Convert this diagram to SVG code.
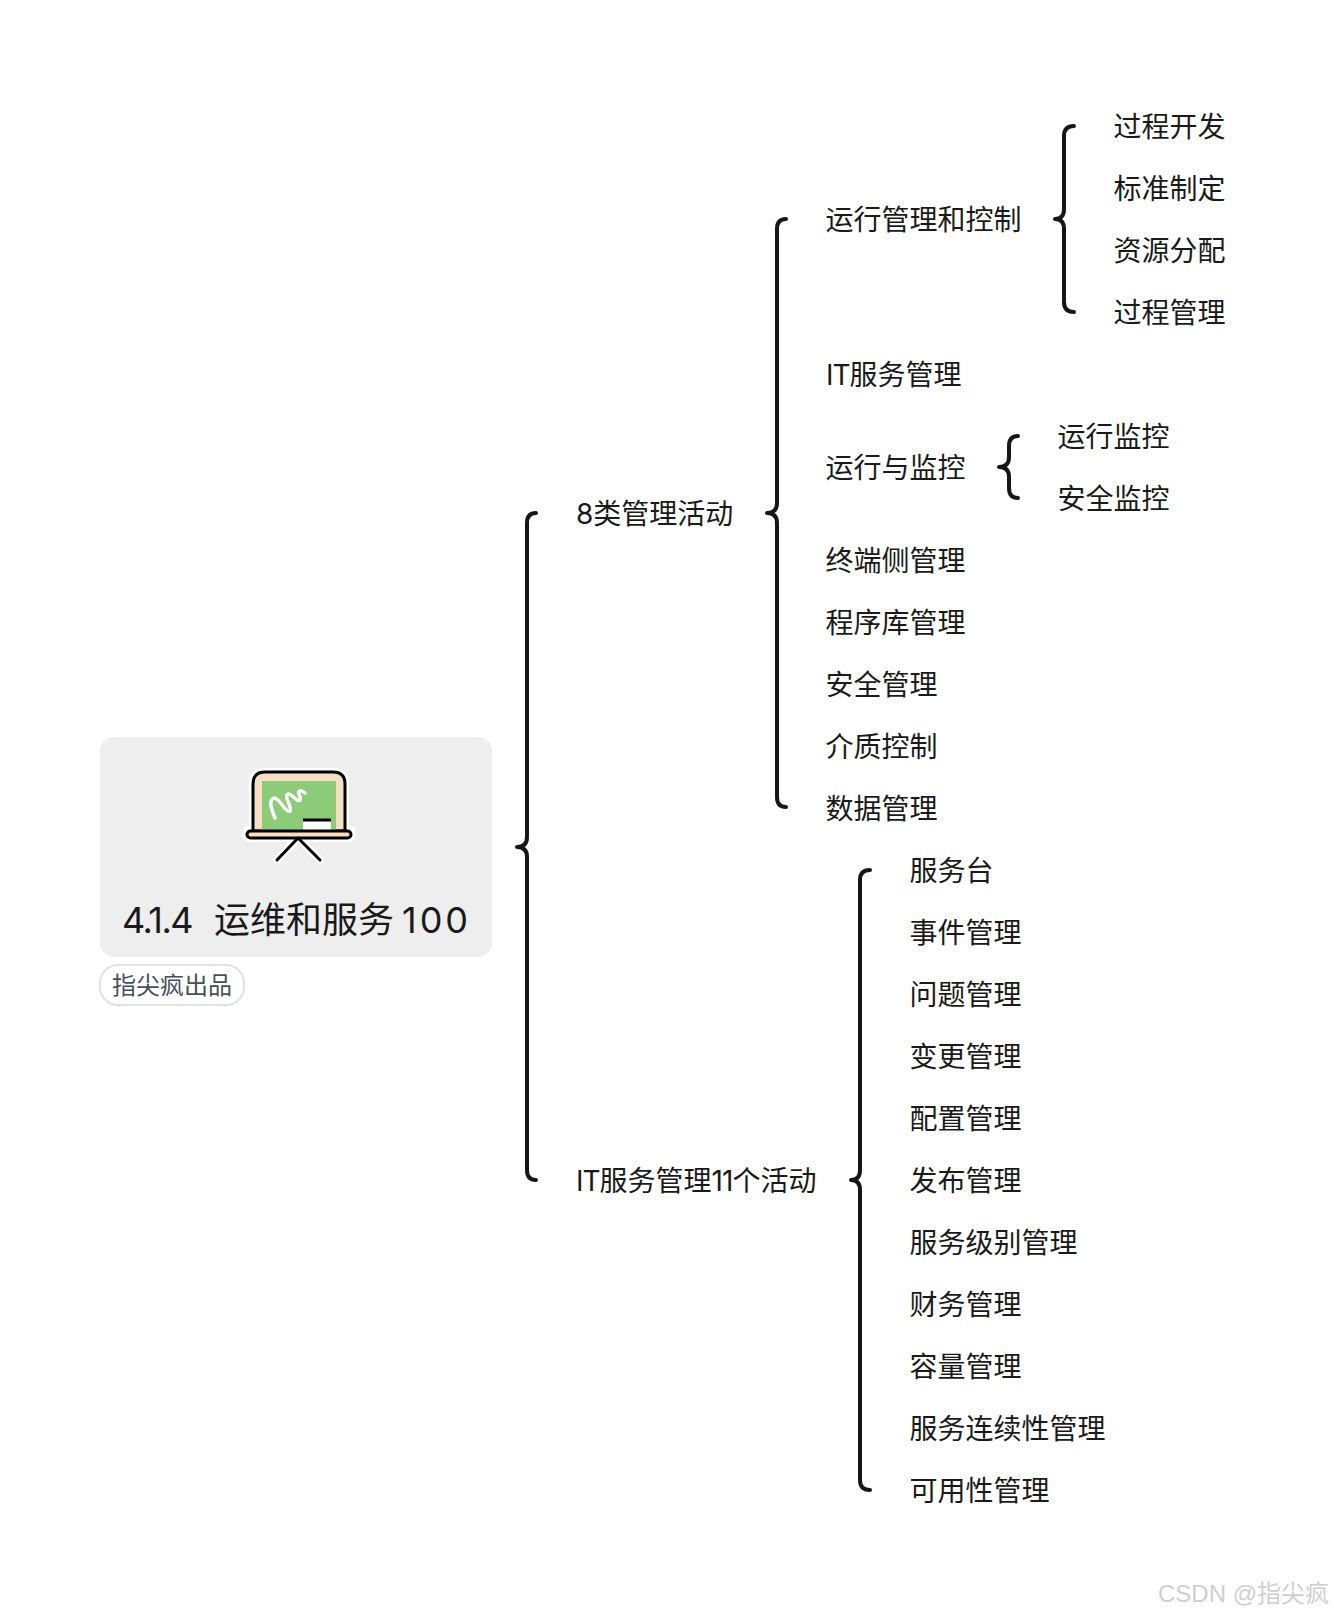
<svg xmlns="http://www.w3.org/2000/svg" width="1334" height="1616" viewBox="0 0 1334 1616">
<style>
text{font-family:Inter,"Noto Sans CJK SC",sans-serif;fill:#1a1a1a}
.n{font-size:28px;dominant-baseline:central}
.l{letter-spacing:-1px}
.b{fill:none;stroke:#161616;stroke-width:4;stroke-linecap:round;stroke-linejoin:round}
.k{stroke:#000;stroke-width:3;stroke-linecap:round;stroke-linejoin:round}
</style>
<rect width="1334" height="1616" fill="#fff"/>
<g id="connectors">
<path class="b" d="M536 513Q527 513 527 523V837Q527 847 517 847Q527 847 527 857V1170Q527 1180 536 1180"/>
<path class="b" d="M786 219Q777 219 777 229V503Q777 513 767 513Q777 513 777 523V797Q777 807 786 807"/>
<path class="b" d="M1074 126Q1064 126 1064 136V209Q1064 219 1055 219Q1064 219 1064 229V302Q1064 312 1074 312"/>
<path class="b" d="M1018 436Q1009 436 1009 446V457Q1009 467 999 467Q1009 467 1009 477V488Q1009 498 1018 498"/>
<path class="b" d="M870 870Q860 870 860 880V1170Q860 1180 851 1180Q860 1180 860 1190V1480Q860 1490 870 1490"/>
</g>
<g id="root">
<rect x="100" y="737" width="392" height="220" rx="14" fill="#eee"/>
<g id="icon">
<path d="M253 830V784Q253 772 265 772H333Q345 772 345 784V830H351Q352 838 347 838H251Q245 838 247 830Z" fill="#fff" stroke="#fff" stroke-width="8" stroke-linejoin="round"/>
<path d="M298 838L277 860M298 838L320 860" fill="none" stroke="#fff" stroke-width="8" stroke-linecap="round"/>
<path d="M253 831V784Q253 772 265 772H333Q345 772 345 784V831Z" fill="#f5dfc5" class="k"/>
<rect x="262" y="781" width="74" height="50" fill="#8ccb78"/>
<path d="M275 818C270 806 269 800 274 798C279 797 286 814 290 811C293 808 283 796 288 794C292 793 297 803 300 800C302 797 296 792 300 791C302 790 304 793 305 793" fill="none" stroke="#fff" stroke-width="3.5" stroke-linecap="round" stroke-linejoin="round"/>
<rect x="303" y="820" width="28" height="11" fill="#fff"/>
<path d="M303 820H331" stroke="#000" stroke-width="3"/>
<rect x="247" y="831" width="104" height="7" rx="3.5" fill="#f5dfc5" class="k"/>
<path d="M298 838L277 860M298 838L320 860" fill="none" class="k"/>
</g>
<text y="933" font-size="36"><tspan x="122" letter-spacing="-1.5">4.1.4</tspan><tspan x="214">运维和服务</tspan><tspan x="402" letter-spacing="3">100</tspan></text>
</g>
<g id="tag">
<rect x="100" y="965" width="144" height="40" rx="18" fill="#fff" stroke="#e2e2e2" stroke-width="2"/>
<text x="172" y="985" font-size="24" text-anchor="middle" dominant-baseline="central" style="fill:#46505c">指尖疯出品</text>
</g>
<g id="n1"><text class="n" x="576" y="514">8类管理活动</text></g>
<g id="n2"><text class="n" x="576" y="1181"><tspan class="l">IT</tspan>服务管理<tspan class="l">11</tspan>个活动</text></g>
<g id="n3"><text class="n" x="825.5" y="220">运行管理和控制</text></g>
<g id="n4"><text class="n" x="826" y="375"><tspan class="l">IT</tspan>服务管理</text></g>
<g id="n5"><text class="n" x="825.5" y="468">运行与监控</text></g>
<g id="n6"><text class="n" x="825.5" y="561">终端侧管理</text></g>
<g id="n7"><text class="n" x="825.5" y="623">程序库管理</text></g>
<g id="n8"><text class="n" x="825.5" y="685">安全管理</text></g>
<g id="n9"><text class="n" x="825.5" y="747">介质控制</text></g>
<g id="n10"><text class="n" x="825.5" y="809">数据管理</text></g>
<g id="n11"><text class="n" x="1113.5" y="127">过程开发</text></g>
<g id="n12"><text class="n" x="1113.5" y="189">标准制定</text></g>
<g id="n13"><text class="n" x="1113.5" y="251">资源分配</text></g>
<g id="n14"><text class="n" x="1113.5" y="313">过程管理</text></g>
<g id="n15"><text class="n" x="1057.5" y="437">运行监控</text></g>
<g id="n16"><text class="n" x="1057.5" y="499">安全监控</text></g>
<g id="n17"><text class="n" x="909.5" y="871">服务台</text></g>
<g id="n18"><text class="n" x="909.5" y="933">事件管理</text></g>
<g id="n19"><text class="n" x="909.5" y="995">问题管理</text></g>
<g id="n20"><text class="n" x="909.5" y="1057">变更管理</text></g>
<g id="n21"><text class="n" x="909.5" y="1119">配置管理</text></g>
<g id="n22"><text class="n" x="909.5" y="1181">发布管理</text></g>
<g id="n23"><text class="n" x="909.5" y="1243">服务级别管理</text></g>
<g id="n24"><text class="n" x="909.5" y="1305">财务管理</text></g>
<g id="n25"><text class="n" x="909.5" y="1367">容量管理</text></g>
<g id="n26"><text class="n" x="909.5" y="1429">服务连续性管理</text></g>
<g id="n27"><text class="n" x="909.5" y="1491">可用性管理</text></g>
<text x="1158" y="1602" font-size="24" style="fill:#cfcfcf;font-family:'Liberation Sans','Noto Sans CJK SC',sans-serif">CSDN @指尖疯</text>
</svg>
